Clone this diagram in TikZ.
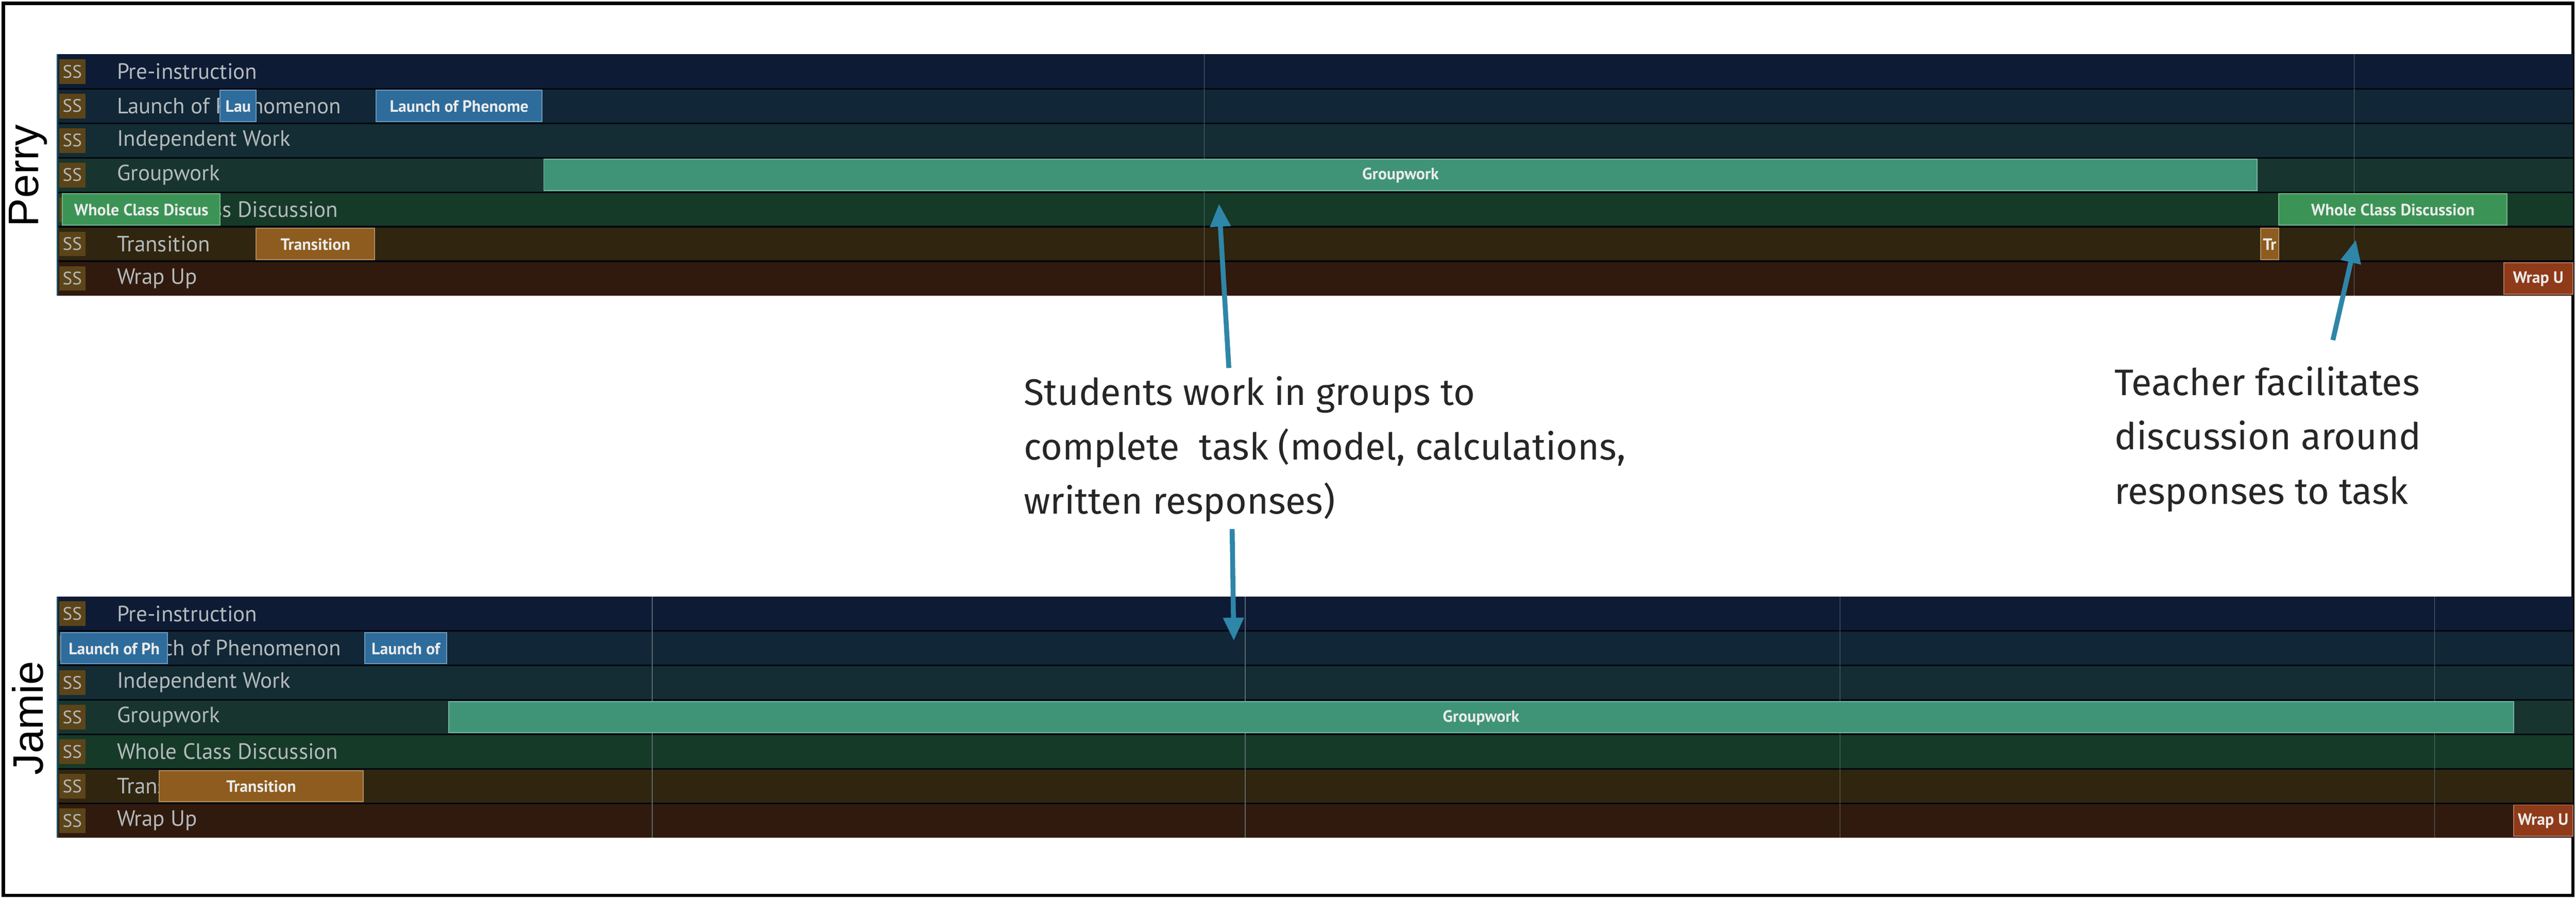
\documentclass[tikz,border=0pt]{standalone}
\usepackage{fontspec}
\setmainfont{Fira Sans}
\newfontfamily\labfont{PT Sans}
\newfontfamily\arialf{Liberation Sans}
\usetikzlibrary{arrows.meta}
\definecolor{cpre}{HTML}{0E1B35}
\definecolor{clau}{HTML}{112636}
\definecolor{cind}{HTML}{142C33}
\definecolor{cgrp}{HTML}{17352E}
\definecolor{cwhc}{HTML}{163A28}
\definecolor{ctrn}{HTML}{30250F}
\definecolor{cwrp}{HTML}{301A0E}
\definecolor{bblue}{HTML}{2E6C9C}
\definecolor{bteal}{HTML}{3F9477}
\definecolor{bgreen}{HTML}{3B9455}
\definecolor{borange}{HTML}{8E5C1E}
\definecolor{bred}{HTML}{8F3A18}
\definecolor{ssbox}{HTML}{5C4419}
\definecolor{labgray}{HTML}{B4BABC}
\definecolor{arrblue}{HTML}{2E86A8}
\tikzset{
  rowlab/.style={anchor=west, text=labgray, font=\labfont\fontsize{13.5}{13.5}\selectfont, inner sep=0pt},
  sslab/.style={fill=ssbox, text=labgray, font=\labfont\fontsize{11}{11}\selectfont, inner sep=0pt, minimum width=16pt, minimum height=15pt},
  bartext/.style={text=white!92!black, font=\labfont\bfseries\fontsize{10}{10}\selectfont, inner sep=0pt},
  arr/.style={draw=arrblue, line width=3pt, -{Triangle[length=14pt,width=12pt]}},
  caption/.style={anchor=north west, align=left, font=\fontsize{22.5}{33}\selectfont, inner sep=0pt, text=black!85},
  who/.style={rotate=90, font=\arialf\fontsize{26}{26}\selectfont, inner sep=0pt}
}
\newcommand\tlbar[7]{%
  \fill[#5, draw=#5!70!white, line width=0.6pt] (#3,{#1+21*#2+1}) rectangle (#4,{#1+21*#2+20});
  \node[bartext] (#7) at ({(#3+#4)/2},{#1+21*#2+10.8}) {#6};}
\newcommand\tlpanel[3]{%
  \foreach \c [count=\i from 0] in {cpre,clau,cind,cgrp,cwhc,ctrn,cwrp}
    {\fill[\c] (35,{#1+21*\i}) rectangle (1566,{#1+21*\i+21});}
  \foreach \i in {1,...,6} {\draw[black!70!cpre, line width=1pt] (35,{#1+21*\i}) -- (1566,{#1+21*\i});}
  \foreach \gx in {#2} {\draw[white!30!cind, line width=0.4pt] (\gx,#1) -- (\gx,{#1+147});}
  \draw[arrblue!60!black, line width=1pt] (35,#1) -- (35,{#1+147});
  \foreach \t [count=\i from 0] in {Pre-instruction,Launch of Phenomenon,Independent Work,Groupwork,Whole Class Discussion,Transition,Wrap Up}
    {\node[sslab] (#3ss\i) at (44,{#1+21*\i+10.5}) {SS};
     \node[rowlab] (#3lab\i) at (71,{#1+21*\i+10.5}) {\t};}
}
\begin{document}
\begin{tikzpicture}[x=1pt,y=-1pt]
\useasboundingbox (0,0) rectangle (1568,547);
\fill[white] (0,0) rectangle (1568,547);
\draw[black, line width=2pt] (2,2) rectangle (1566,545);
% Perry
\tlpanel{33}{733,1433}{p}
\tlbar{33}{1}{134}{156}{bblue}{Lau}{pb1}
\tlbar{33}{1}{229}{330}{bblue}{Launch of Phenome}{pb2}
\tlbar{33}{3}{331}{1374}{bteal}{Groupwork}{pb3}
\tlbar{33}{4}{38}{134}{bgreen}{Whole Class Discus}{pb4}
\tlbar{33}{4}{1387}{1526}{bgreen}{Whole Class Discussion}{pb5}
\tlbar{33}{5}{156}{228}{borange}{Transition}{pb6}
\tlbar{33}{5}{1376}{1387}{borange}{Tr}{pb7}
\tlbar{33}{6}{1524}{1566}{bred}{Wrap U}{pb8}
% Jamie
\tlpanel{363}{397,758,1120,1482}{j}
\tlbar{363}{1}{37}{102}{bblue}{Launch of Ph}{jb1}
\tlbar{363}{1}{222}{272}{bblue}{Launch of}{jb2}
\tlbar{363}{3}{273}{1530}{bteal}{Groupwork}{jb3}
\tlbar{363}{5}{97}{221}{borange}{Transition}{jb4}
\tlbar{363}{6}{1530}{1566}{bred}{Wrap U}{jb5}
% names
\node[who] (perry) at (17,107) {Perry};
\node[who] (jamie) at (17,437) {Jamie};
% captions
\node[caption] (cap1) at (623,229) {Students work in groups to\\complete\ \ task (model, calculations,\\written responses)};
\node[caption] (cap2) at (1287,223) {Teacher facilitates\\discussion around\\responses to task};
\coordinate (a1s) at (748,224);
\coordinate (a1e) at (742,124);
\coordinate (a2s) at (750,322);
\coordinate (a2e) at (751,390);
\coordinate (a3s) at (1420,207);
\coordinate (a3e) at (1434,146);
\draw[arr] (a1s) -- (a1e);
\draw[arr] (a2s) -- (a2e);
\draw[arr] (a3s) -- (a3e);
\end{tikzpicture}
\end{document}
